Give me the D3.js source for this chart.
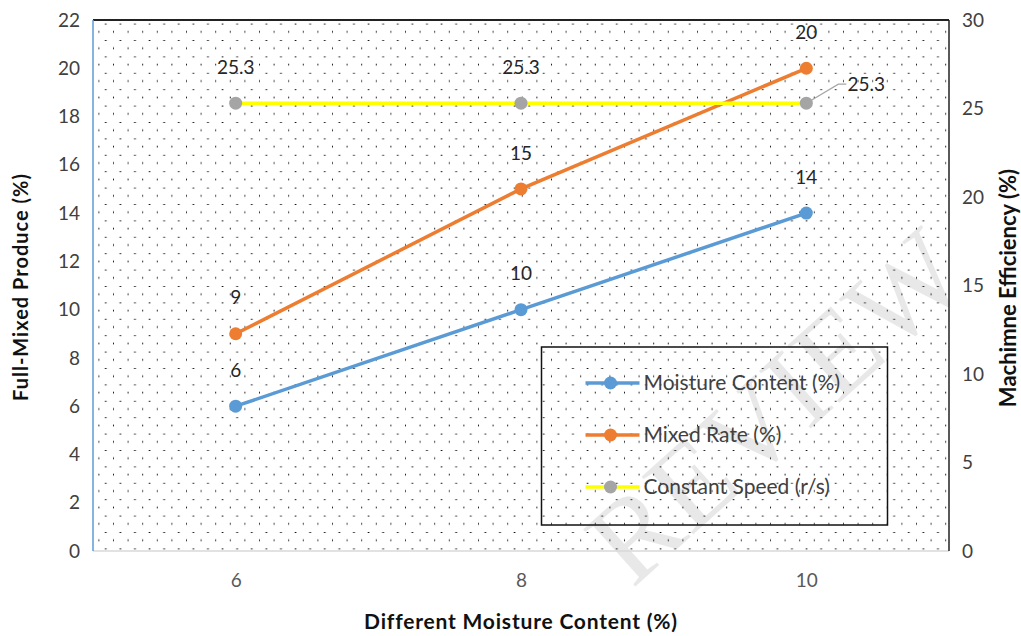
<!DOCTYPE html>
<html>
<head>
<meta charset="utf-8">
<script src="https://cdn.jsdelivr.net/npm/d3@7"></script>
<style>
	html, body { margin: 0; padding: 0; background: #fff; }
	#chart { width: 1021px; height: 636px; }
	text { font-family: Lato, "Open Sans", sans-serif; }
</style>
</head>
<body>
<div id="chart"></div>
<script>
var categories = ["6", "8", "10"];
var moistureContent = [6, 10, 14];
var mixedRate = [9, 15, 20];
var constantSpeed = [25.3, 25.3, 25.3];
var leftTicks = [0, 2, 4, 6, 8, 10, 12, 14, 16, 18, 20, 22];
var rightTicks = [0, 5, 10, 15, 20, 25, 30];
var seriesNames = ["Moisture Content (%)", "Mixed Rate (%)", "Constant Speed (r/s)"];

function comboLineChart() {
	var chart = {},
			selector = "#chart",
			margin = {top: 20, right: 72, bottom: 85, left: 93},
			lineColors = ["#5b9bd5", "#ed7d31", "#ffff00"],
			markerColors = ["#5b9bd5", "#ed7d31", "#a5a5a5"];

	chart.render = function() {
		var outerW = 1021, outerH = 636;
		var width = outerW - margin.left - margin.right;
		var height = outerH - margin.top - margin.bottom;

		var xScale = d3.scalePoint().domain(categories).range([0, width]).padding(0.5);
		var yLeft = d3.scaleLinear().domain([0, 22]).range([height, 0]);
		var yRight = d3.scaleLinear().domain([0, 30]).range([height, 0]);

		var series = [
			{name: seriesNames[0], values: moistureContent, y: yLeft},
			{name: seriesNames[1], values: mixedRate, y: yLeft},
			{name: seriesNames[2], values: constantSpeed, y: yRight}
		];

		var svg = d3.select(selector).append("svg")
				.attr("width", outerW)
				.attr("height", outerH);

		// faint watermark, behind everything
		svg.append("text")
				.attr("transform", "translate(775,405) rotate(-42)")
				.attr("text-anchor", "middle")
				.attr("dy", "0.35em")
				.style("font-family", "'Liberation Serif', serif")
				.style("font-size", "118px")
				.attr("fill", "#d9d9d9")
				.attr("fill-opacity", 0.6)
				.text("REVIEW");

		// dotted plot-area fill
		var pattern = svg.append("defs").append("pattern")
				.attr("id", "dots")
				.attr("patternUnits", "userSpaceOnUse")
				.attr("x", margin.left)
				.attr("y", margin.top)
				.attr("width", 14.6)
				.attr("height", 16.4);
		pattern.append("rect").attr("x", -0.8).attr("y", 7.4).attr("width", 1.7).attr("height", 1.7).attr("fill", "#000");
		pattern.append("rect").attr("x", 6.5).attr("y", -0.8).attr("width", 1.7).attr("height", 1.7).attr("fill", "#000");

		var g = svg.append("g")
				.attr("transform", "translate(" + margin.left + "," + margin.top + ")");

		g.append("rect")
				.attr("width", width)
				.attr("height", height)
				.attr("fill", "url(#dots)");

		// Axes
		var yAxisLeft = d3.axisLeft(yLeft).tickValues(leftTicks).tickSize(0).tickPadding(13);
		var yAxisRight = d3.axisRight(yRight).tickValues(rightTicks).tickSize(0).tickPadding(13);
		var xAxis = d3.axisBottom(xScale).tickSize(0).tickPadding(23);

		g.append("g").attr("class", "y axis left").call(yAxisLeft);
		g.append("g").attr("class", "y axis right")
				.attr("transform", "translate(" + width + ",0)")
				.call(yAxisRight);
		g.append("g").attr("class", "x axis")
				.attr("transform", "translate(0," + height + ")")
				.call(xAxis);

		g.selectAll(".domain").remove();
		g.selectAll(".y.axis text")
				.style("font-size", "19px")
				.attr("fill", "#404040");
		g.selectAll(".x.axis text")
				.style("font-size", "19px")
				.attr("fill", "#595959");

		// Frame lines
		g.append("line").attr("x1", 0).attr("x2", width).attr("y1", height).attr("y2", height)
				.attr("stroke", "#d9d9d9").attr("stroke-width", 1.5);
		g.append("line").attr("x1", 0).attr("x2", width).attr("y1", 0).attr("y2", 0)
				.attr("stroke", "#222").attr("stroke-width", 2);
		g.append("line").attr("x1", width).attr("x2", width).attr("y1", 0).attr("y2", height)
				.attr("stroke", "#222").attr("stroke-width", 1.5);
		g.append("line").attr("x1", 0).attr("x2", 0).attr("y1", 0).attr("y2", height)
				.attr("stroke", "#5b9bd5").attr("stroke-width", 1.5);

		// Lines and markers
		var line = function(s) {
			return d3.line()
					.x(function(d, i) { return xScale(categories[i]); })
					.y(function(d) { return s.y(d); })(s.values);
		};

		var seriesGroup = g.selectAll(".series")
			.data(series)
			.enter().append("g")
				.attr("class", "series");

		seriesGroup.append("path")
				.attr("d", function(s) { return line(s); })
				.attr("fill", "none")
				.attr("stroke", function(s, i) { return lineColors[i]; })
				.attr("stroke-width", 3.5);

		seriesGroup.each(function(s, si) {
			var grp = d3.select(this);
			grp.selectAll("circle")
				.data(s.values)
				.enter().append("circle")
					.attr("cx", function(d, i) { return xScale(categories[i]); })
					.attr("cy", function(d) { return s.y(d); })
					.attr("r", 6.5)
					.attr("fill", markerColors[si]);
		});

		// Data labels
		seriesGroup.each(function(s, si) {
			var grp = d3.select(this);
			s.values.forEach(function(d, i) {
				var px = xScale(categories[i]), py = s.y(d);
				var lx = px, ly = py - 36;
				// last constant-speed label sits to the right with a leader line
				if (si === 2 && i === s.values.length - 1) {
					lx = px + 60;
					ly = py - 19;
					grp.append("polyline")
							.attr("points", [[px, py], [px + 32, ly], [px + 40, ly]].join(" "))
							.attr("fill", "none")
							.attr("stroke", "#a6a6a6")
							.attr("stroke-width", 1.2);
				}
				grp.append("text")
						.attr("x", lx)
						.attr("y", ly)
						.attr("dy", "0.35em")
						.attr("text-anchor", "middle")
						.style("font-size", "19px")
						.attr("fill", "#262626")
						.text(d);
			});
		});

		// Legend
		var legend = g.append("g")
				.attr("class", "legend")
				.attr("transform", "translate(" + (541.5 - margin.left) + "," + (347 - margin.top) + ")");

		legend.append("rect")
				.attr("width", 346)
				.attr("height", 178)
				.attr("fill", "none")
				.attr("stroke", "#111")
				.attr("stroke-width", 1.5);

		var legendItem = legend.selectAll(".legend-item")
			.data(series)
			.enter().append("g")
				.attr("class", "legend-item")
				.attr("transform", function(d, i) { return "translate(44," + (36 + i * 52) + ")"; });

		legendItem.append("line")
				.attr("x1", 0).attr("x2", 54)
				.attr("stroke", function(d, i) { return lineColors[i]; })
				.attr("stroke-width", 3.5);
		legendItem.append("circle")
				.attr("cx", 25)
				.attr("r", 6.5)
				.attr("fill", function(d, i) { return markerColors[i]; });
		legendItem.append("text")
				.attr("x", 58)
				.attr("dy", "0.35em")
				.style("font-size", "21px")
				.attr("fill", "#404040")
				.text(function(d) { return d.name; });

		// Axis titles
		svg.append("text")
				.attr("transform", "translate(21,287) rotate(-90)")
				.attr("text-anchor", "middle")
				.attr("dy", "0.35em")
				.style("font-size", "20px")
				.style("font-weight", "bold")
				.style("letter-spacing", "1px")
				.attr("fill", "#111")
				.text("Full-Mixed Produce (%)");

		svg.append("text")
				.attr("transform", "translate(1008,288) rotate(-90)")
				.attr("text-anchor", "middle")
				.attr("dy", "0.35em")
				.style("font-size", "22px")
				.style("font-weight", "bold")
				.attr("fill", "#111")
				.text("Machimne Efficiency (%)");

		svg.append("text")
				.attr("x", margin.left + width / 2)
				.attr("y", 622)
				.attr("dy", "0.35em")
				.attr("text-anchor", "middle")
				.style("font-size", "21px")
				.style("font-weight", "bold")
				.style("letter-spacing", "0.8px")
				.attr("fill", "#111")
				.text("Different Moisture Content (%)");
	};

	return chart;
}

comboLineChart().render();
</script>
</body>
</html>
